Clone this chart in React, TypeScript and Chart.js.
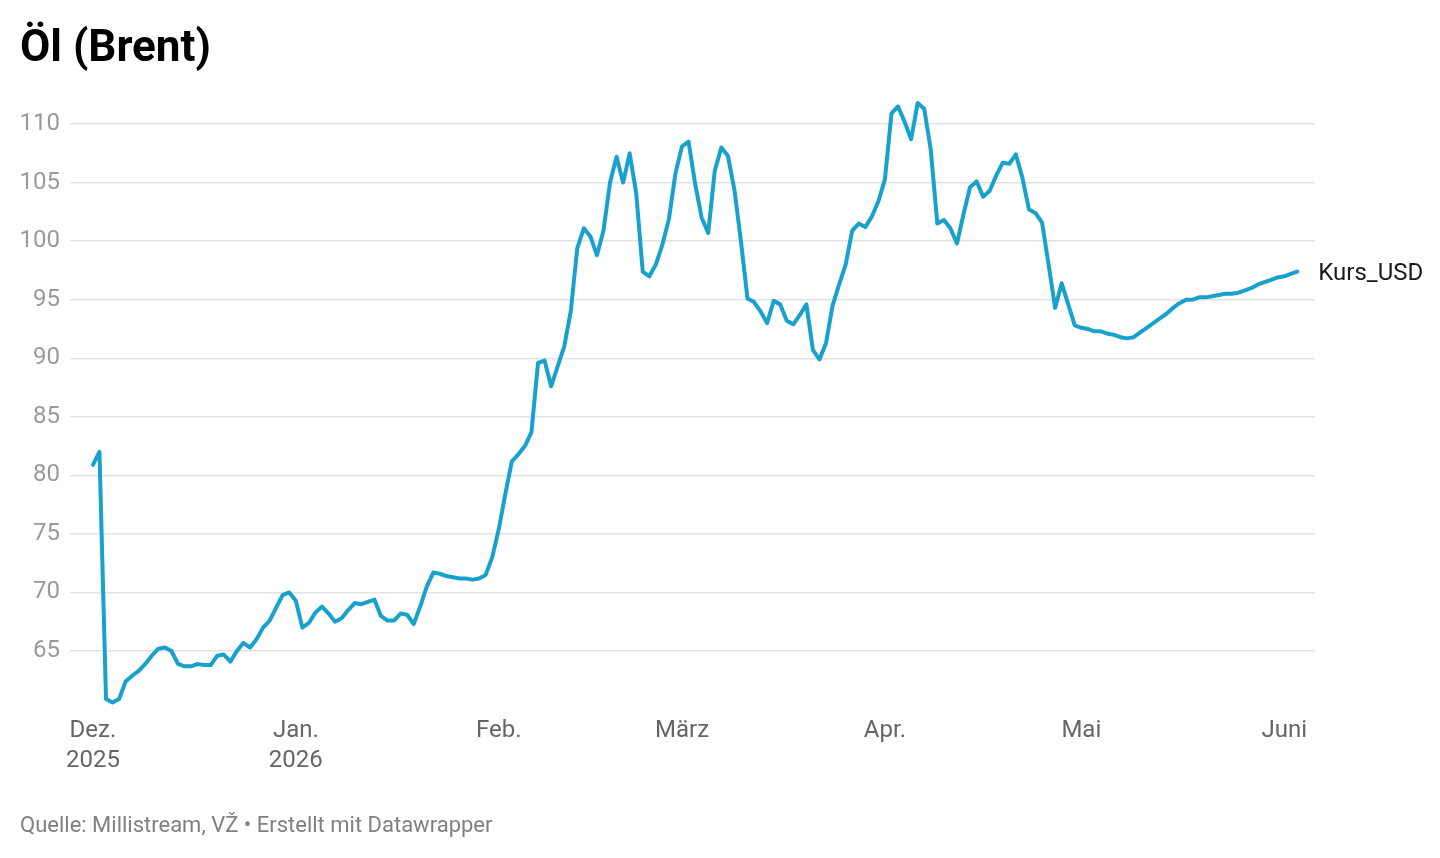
import React, { useEffect, useRef } from 'react';
import { Chart, registerables } from 'chart.js';

Chart.register(...registerables);

// daily Brent closes, starting on startDate
const startDate = '2025-12-01';
const prices = [
  80.9, 82.0, 60.9, 60.6, 60.9, 62.4, 62.9, 63.3, 63.9, 64.6,
  65.2, 65.3, 65.0, 63.9, 63.7, 63.7, 63.9, 63.8, 63.8, 64.6,
  64.7, 64.1, 65.0, 65.7, 65.3, 66.0, 67.0, 67.6, 68.7, 69.8,
  70.0, 69.3, 67.0, 67.4, 68.3, 68.8, 68.2, 67.5, 67.8, 68.5,
  69.1, 69.0, 69.2, 69.4, 68.0, 67.6, 67.6, 68.2, 68.1, 67.3,
  68.8, 70.5, 71.7, 71.6, 71.4, 71.3, 71.2, 71.2, 71.1, 71.2,
  71.5, 73.0, 75.4, 78.4, 81.2, 81.8, 82.5, 83.7, 89.6, 89.8,
  87.6, 89.3, 91.0, 94.0, 99.4, 101.1, 100.4, 98.8, 100.9, 105.0,
  107.2, 105.0, 107.5, 104.1, 97.4, 97.0, 98.0, 99.7, 101.9, 105.8,
  108.1, 108.5, 104.9, 102.0, 100.7, 106.0, 108.0, 107.3, 104.4, 100.0,
  95.1, 94.8, 94.0, 93.0, 94.9, 94.6, 93.2, 92.9, 93.7, 94.6,
  90.7, 89.9, 91.3, 94.5, 96.3, 98.0, 100.9, 101.5, 101.2, 102.1,
  103.4, 105.3, 110.9, 111.5, 110.2, 108.7, 111.8, 111.3, 107.8, 101.5,
  101.8, 101.1, 99.8, 102.3, 104.6, 105.1, 103.8, 104.3, 105.6, 106.7,
  106.6, 107.4, 105.4, 102.7, 102.4, 101.6, 98.0, 94.3, 96.4, 94.6,
  92.8, 92.6, 92.5, 92.3, 92.3, 92.1, 92.0, 91.8, 91.7, 91.8,
  92.2, 92.6, 93.0, 93.4, 93.8, 94.3, 94.7, 95.0, 95.0, 95.2,
  95.2, 95.3, 95.4, 95.5, 95.5, 95.6, 95.8, 96.0, 96.3, 96.5,
  96.7, 96.9, 97.0, 97.2, 97.4,
];

const monthStarts = ['2025-12-01', '2026-01-01', '2026-02-01', '2026-03-01', '2026-04-01', '2026-05-01', '2026-06-01'];
const monthLabels = [['Dez.', '2025'], ['Jan.', '2026'], ['Feb.'], ['März'], ['Apr.'], ['Mai'], ['Juni']];
const yTicks = [65, 70, 75, 80, 85, 90, 95, 100, 105, 110];
const seriesName = 'Kurs_USD';

const DAY = 86400000;
const dayOffset = (d: string) => (Date.parse(d) - Date.parse(startDate)) / DAY;

const endLabel = {
  id: 'endLabel',
  afterDatasetsDraw(chart: any) {
    const meta = chart.getDatasetMeta(0);
    const last = meta.data[meta.data.length - 1];
    if (!last) return;
    const ctx = chart.ctx;
    ctx.save();
    ctx.font = '24px Roboto';
    ctx.fillStyle = '#1a1a1a';
    ctx.textAlign = 'left';
    ctx.textBaseline = 'middle';
    ctx.fillText(seriesName, last.x + 21, last.y + 2);
    ctx.restore();
  },
};

const OilChart: React.FC = () => {
  const canvasRef = useRef<HTMLCanvasElement | null>(null);
  const chartRef = useRef<Chart | null>(null);

  useEffect(() => {
    if (!canvasRef.current) return;
    const tickPos = monthStarts.map(dayOffset);

    chartRef.current = new Chart(canvasRef.current, {
      type: 'line',
      data: {
        datasets: [
          {
            label: seriesName,
            data: prices.map((v, i) => ({ x: i, y: v })),
            borderColor: '#18a1cd',
            borderWidth: 4,
            pointRadius: 0,
            tension: 0,
            borderJoinStyle: 'round',
            borderCapStyle: 'round',
          },
        ],
      },
      options: {
        animation: false,
        responsive: true,
        maintainAspectRatio: false,
        layout: { padding: { top: 100.6, right: 125, bottom: 68.4, left: 0 } },
        plugins: { legend: { display: false }, tooltip: { enabled: false } },
        scales: {
          x: {
            type: 'linear',
            min: -3.5,
            max: 186.7,
            grid: { display: false },
            border: { display: false },
            afterBuildTicks: (scale: any) => {
              scale.ticks = tickPos.map((v) => ({ value: v }));
            },
            afterFit: (scale: any) => {
              scale.height = 80;
            },
            ticks: {
              autoSkip: false,
              maxRotation: 0,
              padding: -2,
              color: '#666666',
              font: { family: 'Roboto', size: 24, lineHeight: 1.25 },
              callback: (value: any) => {
                const idx = tickPos.indexOf(value);
                return idx >= 0 ? monthLabels[idx] : '';
              },
            },
          },
          y: {
            type: 'linear',
            min: 60,
            max: 112,
            grid: { color: '#e2e2e2', lineWidth: 1.5, drawTicks: false },
            border: { display: false },
            afterBuildTicks: (scale: any) => {
              scale.ticks = yTicks.map((v) => ({ value: v }));
            },
            afterFit: (scale: any) => {
              scale.width = 70;
            },
            ticks: {
              padding: 10,
              color: '#9a9a9a',
              font: { family: 'Roboto', size: 24 },
            },
          },
        },
      },
      plugins: [endLabel],
    });

    return () => {
      if (chartRef.current) {
        chartRef.current.destroy();
        chartRef.current = null;
      }
    };
  }, []);

  return (
    <div style={{ position: 'absolute', left: 0, top: 0, width: 1440, height: 858 }}>
      <canvas ref={canvasRef} />
    </div>
  );
};

export default function App() {
  return (
    <div style={{ position: 'absolute', left: 0, top: 0, width: 1440, height: 858, background: '#fff', fontFamily: 'Roboto' }}>
      <OilChart />
      <div style={{ position: 'absolute', left: 20, top: 24, fontSize: 44, lineHeight: '44px', fontWeight: 700, color: '#000' }}>
        Öl (Brent)
      </div>
      <div style={{ position: 'absolute', left: 20, top: 813, fontSize: 22, lineHeight: '24px', color: '#808080' }}>
        Quelle: Millistream, VŽ • Erstellt mit Datawrapper
      </div>
    </div>
  );
}
